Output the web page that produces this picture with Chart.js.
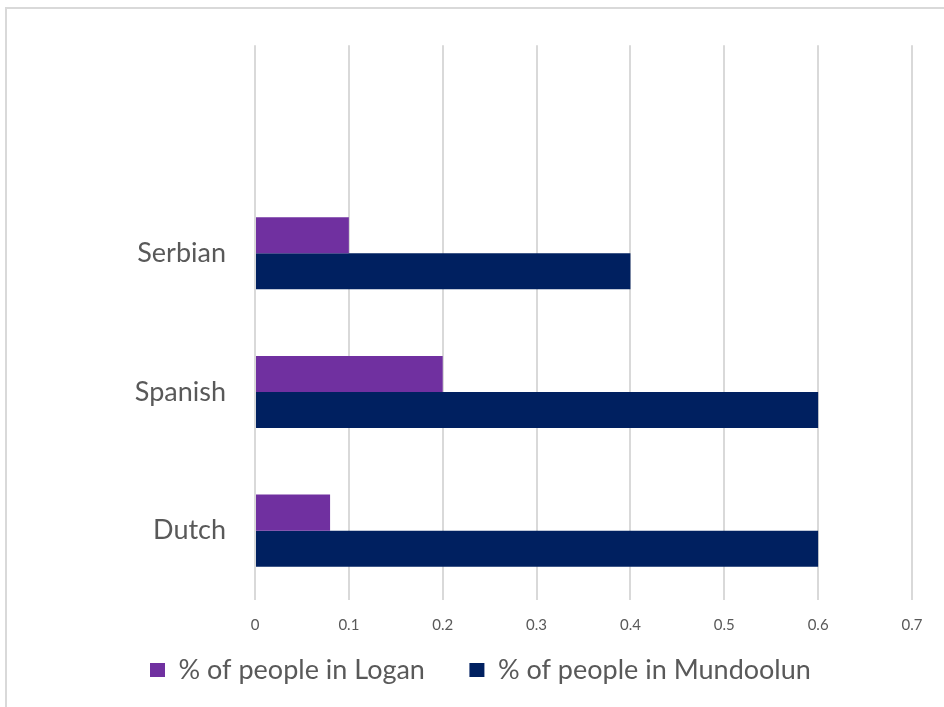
<!DOCTYPE html>
<html>
<head>
<meta charset="utf-8">
<script src="https://cdn.jsdelivr.net/npm/chart.js@4.4.1/dist/chart.umd.min.js"></script>
<style>
  html, body { margin: 0; padding: 0; background: #ffffff; }
  #wrap { position: relative; width: 944px; height: 707px; overflow: hidden; }
  #frame { position: absolute; left: 5px; top: 7px; width: 1000px; height: 1000px;
           border-left: 2px solid #d9d9d9; border-top: 2px solid #d9d9d9; }
  canvas { position: absolute; left: 0; top: 0; }
</style>
</head>
<body>
<div id="wrap">
  <div id="frame"></div>
  <canvas id="c" width="944" height="707"></canvas>
</div>
<script>
// Categories (top to bottom; the top slot is an empty category in the original)
const categories = ["", "Serbian", "Spanish", "Dutch"];
const loganValues = [null, 0.1, 0.2, 0.08];
const mundoolunValues = [null, 0.4, 0.6, 0.6];
const seriesNames = ["% of people in Logan", "% of people in Mundoolun"];
const xTickLabels = ["0", "0.1", "0.2", "0.3", "0.4", "0.5", "0.6", "0.7"];

const TEXT = '#595959';
const FONT = 'Lato, "Open Sans", sans-serif';

const legendShift = {
  id: 'legendShift',
  afterLayout(chart) {
    const lg = chart.legend;
    if (lg) {
      const h = lg.bottom - lg.top;
      lg.left = 105.5;
      lg.top = 612;
      lg.bottom = 612 + h;
    }
  }
};

new Chart(document.getElementById('c'), {
  type: 'bar',
  data: {
    labels: categories,
    datasets: [
      { label: seriesNames[0], data: loganValues, backgroundColor: '#7030A0', borderWidth: 0 },
      { label: seriesNames[1], data: mundoolunValues, backgroundColor: '#002060', borderWidth: 0 }
    ]
  },
  options: {
    indexAxis: 'y',
    responsive: false,
    animation: false,
    devicePixelRatio: 1,
    datasets: { bar: { barPercentage: 1.0, categoryPercentage: 0.52 } },
    layout: { padding: { top: 41, right: 32, bottom: -10.5, left: 0 } },
    scales: {
      x: {
        min: 0, max: 0.7,
        border: { display: false },
        grid: { color: '#d9d9d9', lineWidth: 2, drawTicks: false },
        ticks: {
          stepSize: 0.1,
          padding: 16,
          color: TEXT,
          font: { family: FONT, size: 15 },
          callback: (v, i) => xTickLabels[i]
        },
        afterFit(scale) { scale.height = 36; }
      },
      y: {
        border: { display: false },
        grid: { display: false, drawTicks: false },
        ticks: { padding: 29, color: TEXT, font: { family: FONT, size: 27 } },
        afterFit(scale) { scale.width = 255; }
      }
    },
    plugins: {
      tooltip: { enabled: false },
      legend: {
        position: 'bottom',
        align: 'start',
        labels: {
          color: TEXT,
          font: { family: FONT, size: 27 },
          boxWidth: 15,
          boxHeight: 14,
          padding: 44.5
        }
      }
    }
  },
  plugins: [legendShift]
});
</script>
</body>
</html>
